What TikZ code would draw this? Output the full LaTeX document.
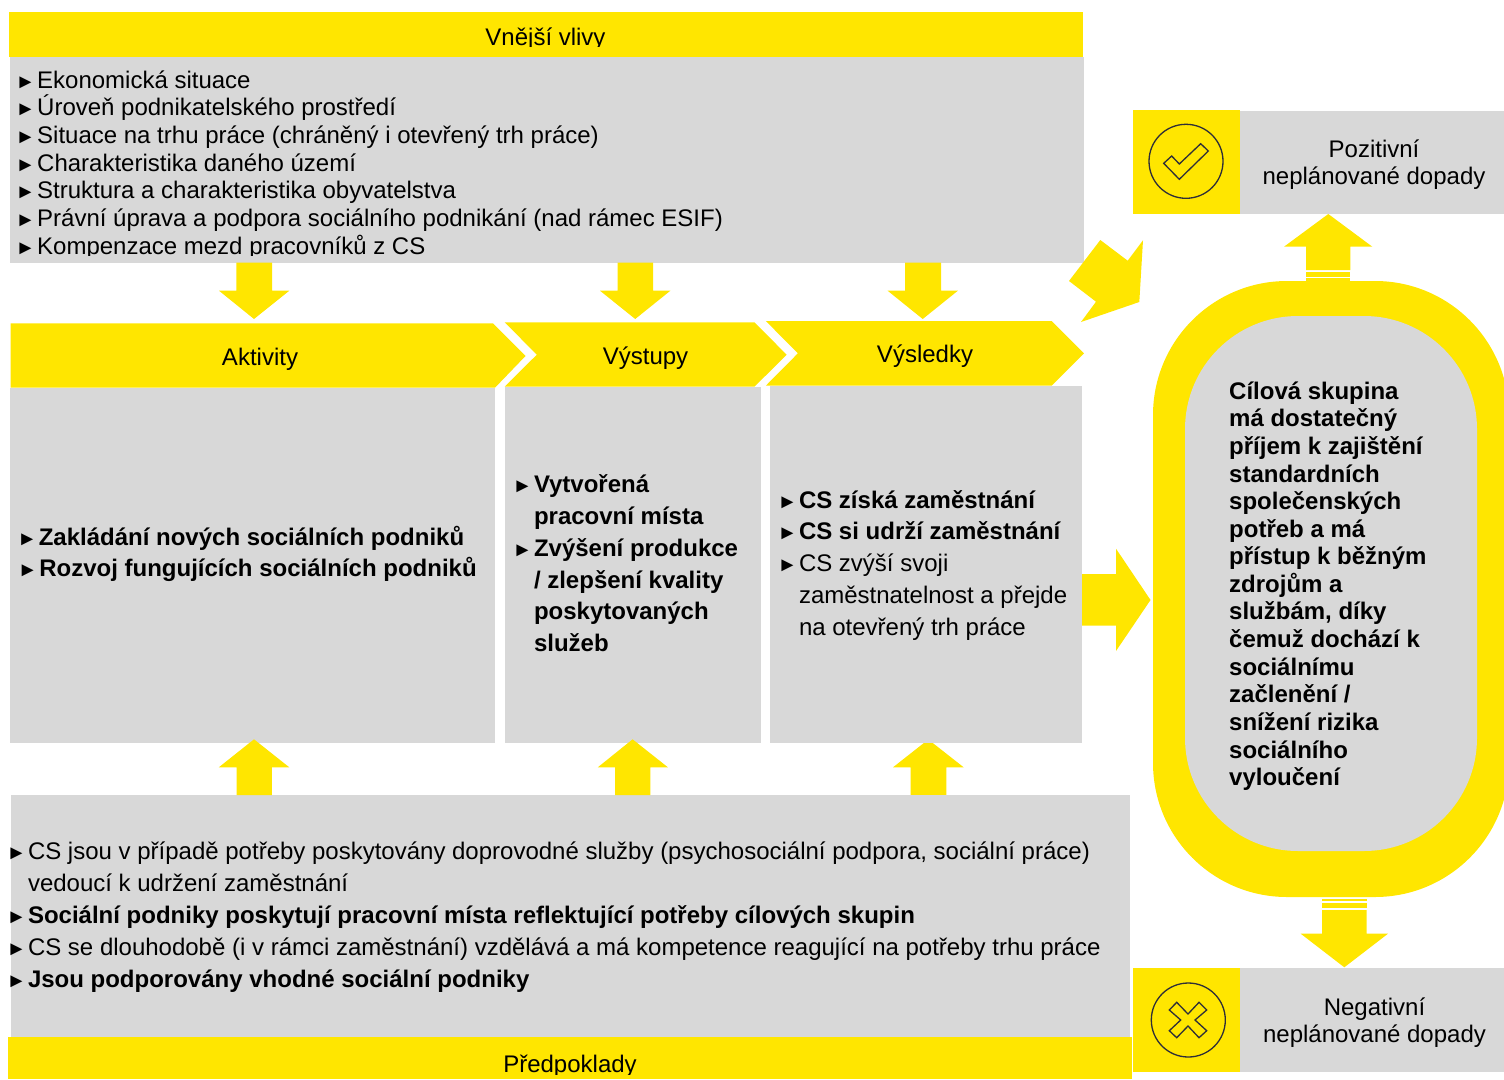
\documentclass[tikz,border=0pt]{standalone}
\usepackage{fontspec}
\setmainfont{Liberation Sans}
\definecolor{ylw}{HTML}{FFE600}
\definecolor{gry}{HTML}{D8D8D8}
\definecolor{ink}{HTML}{2E2E38}
\newcommand{\bul}{\makebox[0pt][r]{\fontsize{20}{20}\selectfont\normalfont ►\kern 1.7pt}}
\tikzset{
  box/.style={anchor=north west,inner sep=0pt,outer sep=0pt,minimum width=#1},
  gbox/.style={box=#1,fill=gry},
  ybox/.style={box=#1,fill=ylw},
  txt/.style={anchor=base west,inner sep=0pt,outer sep=0pt,font=\fontsize{24}{27}\selectfont,text=black},
  btxt/.style={txt,font=\fontsize{24}{27}\selectfont\bfseries},
  ctxt/.style={txt,anchor=base},
  blk/.style={fill=ylw,draw=none},
  icon/.style={draw=ink,line width=1.3pt,fill=none,line join=miter}
}
\begin{document}
\begin{tikzpicture}[x=1pt,y=-1pt]
\useasboundingbox (0,0) rectangle (1504,1079);
% --- block arrows under the boxes
\fill[blk] (910.7,795) -- (910.7,767.3) -- (893,767.3) -- (928.3,739.5) -- (963.7,767.3) -- (946.3,767.3) -- (946.3,795) -- cycle;
% --- top panel
\node[ybox=1074pt,minimum height=45pt] (topbar) at (9,12) {};
\node[gbox=1074pt,minimum height=206pt] (topgrey) at (10,57) {};
\begin{scope}
\clip (9,12) rectangle (1083,46);
\node[ctxt] (toptitle) at (545.5,45) {Vnější vlivy};
\end{scope}
\node[txt] (t1) at (37.2,88.3) {\bul Ekonomická situace};
\node[txt] (t2) at (37.2,115) {\bul Úroveň podnikatelského prostředí};
\node[txt] (t3) at (37.2,143) {\bul Situace na trhu práce (chráněný i otevřený trh práce)};
\node[txt] (t4) at (37.2,171) {\bul Charakteristika daného území};
\node[txt] (t5) at (37.2,198) {\bul Struktura a charakteristika obyvatelstva};
\node[txt] (t6) at (37.2,226) {\bul Právní úprava a podpora sociálního podnikání (nad rámec ESIF)};
\begin{scope}
\clip (10,57) rectangle (1084,255.5);
\node[txt] (t7) at (37.2,254) {\bul Kompenzace mezd pracovníků z CS};
\end{scope}
% --- arrows from top panel
\fill[blk] (236.3,262.5) -- (236.3,290.7) -- (219,290.7) -- (254,319) -- (289.3,290.7) -- (272,290.7) -- (272,262.5) -- cycle;
\fill[blk] (617.5,262.5) -- (617.5,290.7) -- (600,290.7) -- (635.2,319) -- (670.4,290.7) -- (653,290.7) -- (653,262.5) -- cycle;
\fill[blk] (905,262.5) -- (905,290.7) -- (887.6,290.7) -- (922.7,319) -- (957.9,290.7) -- (941,290.7) -- (941,262.5) -- cycle;
% --- diagonal arrow
\fill[blk] (1100.3,240) -- (1127.7,260.7) -- (1143,240.3) -- (1139.3,302) -- (1081,322) -- (1096,301.7) -- (1069,281) -- cycle;
% --- chevrons
\fill[blk] (10.7,323.3) -- (493,323.3) -- (525.5,356) -- (495,387.7) -- (10.7,387.7) -- cycle;
\fill[blk] (504.7,322.3) -- (754.5,322.3) -- (786.6,354.7) -- (754.5,386.7) -- (504.7,386.7) -- (536.8,354.7) -- cycle;
\fill[blk] (765.8,321) -- (1051.6,321) -- (1084,353.3) -- (1051.6,385.7) -- (765.8,385.7) -- (797.9,353.3) -- cycle;
\node[ctxt] (aktivity) at (260,365) {Aktivity};
\node[ctxt] (vystupy) at (645.5,364) {Výstupy};
\node[ctxt] (vysledky) at (925,362) {Výsledky};
% --- middle boxes
\node[gbox=485pt,minimum height=355pt] (gakt) at (10,388) {};
\node[gbox=256pt,minimum height=356pt] (gvys) at (505,387) {};
\node[gbox=312pt,minimum height=357pt] (gvyl) at (770,386) {};
\node[btxt] (a1) at (38.8,545) {\bul Zakládání nových sociálních podniků};
\node[btxt] (a2) at (39.3,576) {\bul Rozvoj fungujících sociálních podniků};
\node[btxt] (b1) at (534,492) {\bul Vytvořená};
\node[btxt] (b2) at (534,524) {pracovní místa};
\node[btxt] (b3) at (534,556) {\bul Zvýšení produkce};
\node[btxt] (b4) at (534,588) {/ zlepšení kvality};
\node[btxt] (b5) at (534,619) {poskytovaných};
\node[btxt] (b6) at (534,651) {služeb};
\node[btxt] (c1) at (799,508) {\bul CS získá zaměstnání};
\node[btxt] (c2) at (799,539) {\bul CS si udrží zaměstnání};
\node[txt] (c3) at (799,571) {\bul CS zvýší svoji};
\node[txt] (c4) at (799,603) {zaměstnatelnost a přejde};
\node[txt] (c5) at (799,635) {na otevřený trh práce};
% --- right arrow
\fill[blk] (1082,574) -- (1116,574) -- (1116,548.7) -- (1150.5,600) -- (1116,651) -- (1116,625.7) -- (1082,625.7) -- cycle;
% --- bottom panel
\node[gbox=1119pt,minimum height=242pt] (botgrey) at (11,795) {};
\fill[blk] (236.6,795) -- (236.6,767.3) -- (218.8,767.3) -- (254,739.3) -- (289.3,767.3) -- (271.9,767.3) -- (271.9,795) -- cycle;
\fill[blk] (615,795) -- (615,767.3) -- (597.8,767.3) -- (632.6,739.3) -- (667.9,767.3) -- (650.4,767.3) -- (650.4,795) -- cycle;
\node[txt] (d1) at (28,859.2) {\bul CS jsou v případě potřeby poskytovány doprovodné služby (psychosociální podpora, sociální práce)};
\node[txt] (d2) at (28,891.2) {vedoucí k udržení zaměstnání};
\node[btxt] (d3) at (28,923.2) {\bul Sociální podniky poskytují pracovní místa reflektující potřeby cílových skupin};
\node[txt] (d4) at (28,955.2) {\bul CS se dlouhodobě (i v rámci zaměstnání) vzdělává a má kompetence reagující na potřeby trhu práce};
\node[btxt] (d5) at (28,987.2) {\bul Jsou podporovány vhodné sociální podniky};
\node[ybox=1124pt,minimum height=42pt] (botbar) at (8,1037) {};
\begin{scope}
\clip (8,1037) rectangle (1132,1074);
\node[ctxt] (bottitle) at (570,1072.3) {Předpoklady};
\end{scope}
% --- ring
\begin{scope}
\clip (1100,270) rectangle (1504,900);
\node[ybox=356pt,minimum height=616pt,rounded corners=134pt] (ring) at (1153,281) {};
\end{scope}
\node[gbox=292pt,minimum height=535pt,rounded corners=113pt] (ringin) at (1185,316) {};
\node[btxt] (r1) at (1229.2,399.2) {Cílová skupina};
\node[btxt] (r2) at (1229.2,426.9) {má dostatečný};
\node[btxt] (r3) at (1229.2,454.5) {příjem k zajištění};
\node[btxt] (r4) at (1229.2,482.2) {standardních};
\node[btxt] (r5) at (1229.2,509.4) {společenských};
\node[btxt] (r6) at (1229.2,537.2) {potřeb a má};
\node[btxt] (r7) at (1229.2,564.6) {přístup k běžným};
\node[btxt] (r8) at (1229.2,592.2) {zdrojům a};
\node[btxt] (r9) at (1229.2,619.8) {službám, díky};
\node[btxt] (r10) at (1229.2,647.4) {čemuž dochází k};
\node[btxt] (r11) at (1229.2,675) {sociálnímu};
\node[btxt] (r12) at (1229.2,702.5) {začlenění /};
\node[btxt] (r13) at (1229.2,730) {snížení rizika};
\node[btxt] (r14) at (1229.2,758) {sociálního};
\node[btxt] (r15) at (1229.2,785.3) {vyloučení};
% --- positive box
\node[gbox=264pt,minimum height=103pt] (posg) at (1240,111) {};
\node[ybox=107pt,minimum height=104pt] (posy) at (1133,110) {};
\node[icon,circle,minimum size=74pt,inner sep=0pt] (posc) at (1186,161.3) {};
\draw[icon] (1163.7,163.3) -- (1171.7,156) -- (1179.3,164) -- (1200.7,143.7) -- (1208.3,151) -- (1179.3,179.3) -- cycle;
\node[ctxt] (pos1) at (1374,157) {Pozitivní};
\node[ctxt] (pos2) at (1374,184) {neplánované dopady};
% --- up arrow
\fill[blk] (1306,270) -- (1306,246.7) -- (1284,246.7) -- (1328.3,214) -- (1372.3,246.7) -- (1350.3,246.7) -- (1350.3,270) -- cycle;
\fill[blk] (1306,272) rectangle (1350.3,276.7);
\fill[blk] (1306,278) rectangle (1350.3,281);
% --- down arrow
\fill[blk] (1322,899.3) rectangle (1366.7,901.3);
\fill[blk] (1322,903.3) rectangle (1366.7,908.3);
\fill[blk] (1322,910) -- (1366.7,910) -- (1366.7,933.7) -- (1388,933.7) -- (1344.3,967.3) -- (1300.7,933.7) -- (1322,933.7) -- cycle;
% --- negative box
\node[gbox=264pt,minimum height=104pt] (negg) at (1240,968) {};
\node[ybox=107pt,minimum height=104pt] (negy) at (1133,968) {};
\node[icon,circle,minimum size=74pt,inner sep=0pt] (negc) at (1188.3,1020) {};
\draw[icon] (1169.3,1010) -- (1176.7,1002.3) -- (1188,1014) -- (1199,1002.3) -- (1206.7,1010) -- (1195,1020) -- (1206.7,1030.7) -- (1199,1037.7) -- (1188,1026) -- (1176.7,1037.7) -- (1169.3,1030.7) -- (1180.7,1020) -- cycle;
\node[ctxt] (neg1) at (1374.5,1015) {Negativní};
\node[ctxt] (neg2) at (1374.5,1042) {neplánované dopady};
\end{tikzpicture}
\end{document}
